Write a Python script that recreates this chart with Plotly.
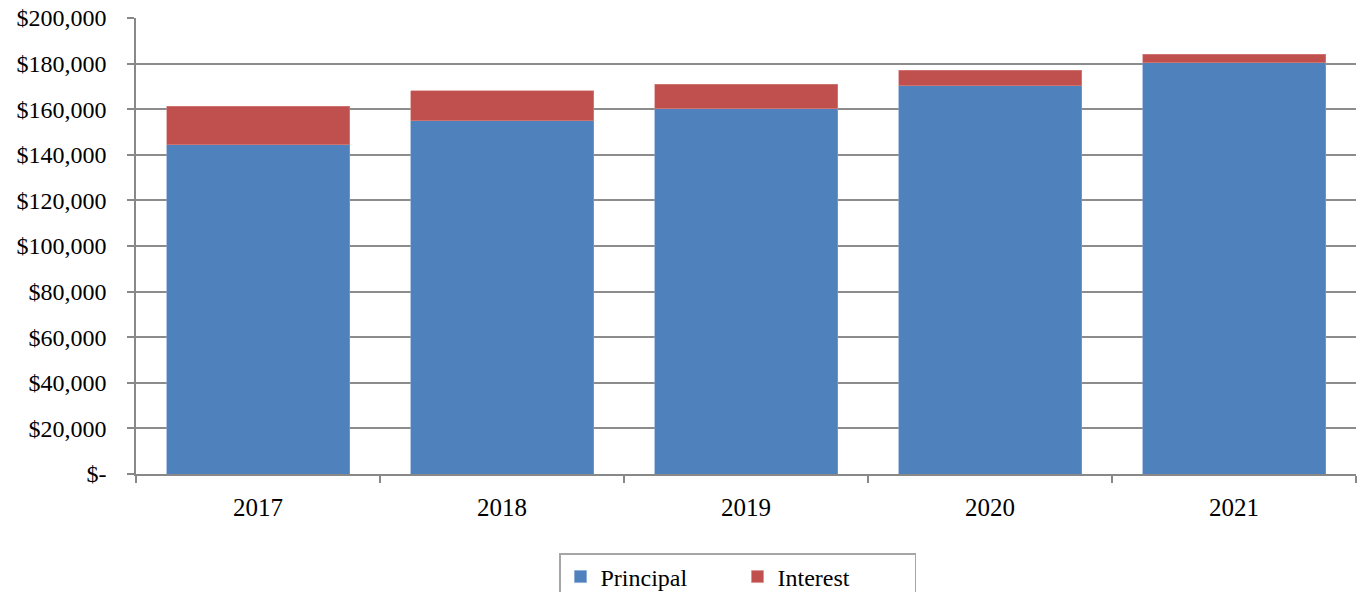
import plotly.graph_objects as go

years = ["2017", "2018", "2019", "2020", "2021"]
principal = [144500, 155000, 160300, 170200, 180300]
interest = [16800, 13200, 10600, 6900, 3800]
ytick_vals = [0, 20000, 40000, 60000, 80000, 100000, 120000, 140000, 160000, 180000, 200000]
ytick_text = ["$-", "$20,000", "$40,000", "$60,000", "$80,000", "$100,000",
              "$120,000", "$140,000", "$160,000", "$180,000", "$200,000"]

FONT = "Liberation Serif"
FS = 25
YFS = 24
LFS = 24

fig = go.Figure()
fig.add_trace(go.Bar(x=years, y=principal, name="Principal",
                     marker=dict(color="#4F81BD", line=dict(color="#7fa3d3", width=0.6))))
fig.add_trace(go.Bar(x=years, y=interest, name="Interest",
                     marker=dict(color="#C0504D", line=dict(color="#d98a88", width=0.6))))

fig.update_layout(
    barmode="stack",
    bargap=0.25,
    width=1364, height=592,
    margin=dict(l=136, r=8, t=18, b=118, autoexpand=False),
    paper_bgcolor="white", plot_bgcolor="white",
    font=dict(family=FONT, size=FS, color="black"),
    showlegend=True,
    legend=dict(orientation="h", xref="container", yref="container",
                x=559 / 1364, xanchor="left", y=1 - 553 / 592, yanchor="top",
                bordercolor="#a6a6a6", borderwidth=1.5,
                font=dict(family=FONT, size=LFS, color="black"),
                entrywidth=132, itemwidth=30, traceorder="normal"),
)
fig.update_xaxes(
    type="category", showline=True, linecolor="#888888", linewidth=1.5,
    ticks="outside", ticklen=7, tickcolor="#888888", tickwidth=1.5,
    tickson="boundaries", showgrid=False, automargin=False,
    ticklabelstandoff=10, ticklabeloverflow="allow",
    tickfont=dict(family=FONT, size=FS, color="black"),
)
fig.update_yaxes(
    range=[0, 200000], tickvals=ytick_vals, ticktext=ytick_text,
    showline=True, linecolor="#888888", linewidth=1.5,
    ticks="outside", ticklen=7, tickcolor="#888888", tickwidth=1.5,
    showgrid=True, gridcolor="#8c8c8c", gridwidth=1.5, automargin=False,
    ticklabelstandoff=16, ticklabeloverflow="allow",
    tickfont=dict(family=FONT, size=YFS, color="black"), zeroline=False,
)

fig.write_html("out.html", config={"displayModeBar": False},
               post_script="document.body.style.margin='0px';")
